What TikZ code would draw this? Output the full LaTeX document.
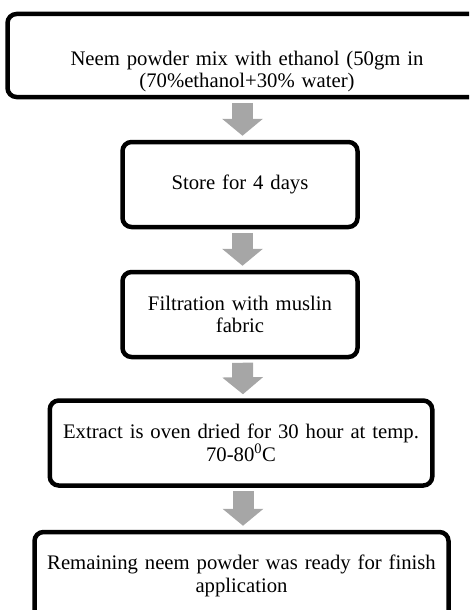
\documentclass[tikz,border=0pt]{standalone}
\usepackage{fontspec}
\setmainfont{Liberation Serif}
\usetikzlibrary{arrows.meta}
\definecolor{arrowgray}{RGB}{166,166,166}

\begin{document}
\begin{tikzpicture}[
        x=1pt, y=-1pt,
        stepbox/.style={draw, line width=4.5pt, rounded corners=9pt, align=center, inner sep=2pt,
            minimum height=85pt, font=\fontsize{20.7}{22.5}\selectfont},
        flowarrow/.style={color=arrowgray, line width=21pt, -{Triangle[width=40pt,length=17pt]},
            shorten <=3.5pt, shorten >=4pt}
    ]
        \clip (0,0) rectangle (469,610);

        % Process steps
        \node[stepbox, minimum width=479pt, minimum height=83pt, text width=460pt] (b1) at (247,55.5)
            {\rule{0pt}{46pt}Neem powder mix with ethanol (50gm in\\(70\%ethanol+30\% water)};
        \node[stepbox, minimum width=235pt, text width=225pt] (b2) at (240,184.5) {Store for 4 days};
        \node[stepbox, minimum width=235pt, text width=225pt] (b3) at (240,314.5) {Filtration with muslin\\fabric};
        \node[stepbox, minimum width=382.5pt, text width=372pt] (b4) at (241,443)
            {Extract is oven dried for 30 hour at temp.\\70-80\textsuperscript{0}C};
        \node[stepbox, minimum width=414pt, minimum height=88pt, text width=405pt] (b5) at (241.5,576)
            {Remaining neem powder was ready for finish\\application};

        % Arrows between steps
        \draw[flowarrow] ([xshift=2.5pt]b2.north |- b1.south) -- ([xshift=2.5pt]b2.north);
        \draw[flowarrow] ([xshift=2.5pt]b2.south) -- ([xshift=2.5pt]b3.north);
        \draw[flowarrow] ([xshift=2.5pt]b3.south) -- ([xshift=2pt]b4.north);
        \draw[flowarrow] ([xshift=2pt]b4.south) -- ([xshift=1.5pt]b5.north);
    \end{tikzpicture}
\end{document}
